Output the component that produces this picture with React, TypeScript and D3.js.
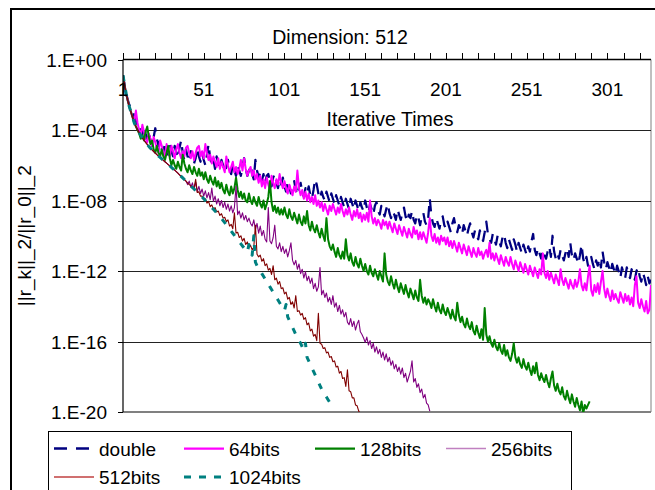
import React from "react";
import * as d3 from "d3";

const W = 655;
const H = 490;

// x categories: iteration index 1..328
const iterationCount = 328;
const xTickLabels = [1, 51, 101, 151, 201, 251, 301];
const yTickExponents = [0, -4, -8, -12, -16, -20];
const yTickLabels = ["1.E+00", "1.E-04", "1.E-08", "1.E-12", "1.E-16", "1.E-20"];

// log10 of the relative residual ||r_k||_2/||r_0||_2
const headLog = [
  -0.9, -1.45, -1.95, -2.35, -2.7, -3.0, -3.3, -3.6, -3.8, -4.0,
  -4.15, -4.3, -4.45, -4.58, -4.7, -4.82, -4.93, -5.03, -5.13, -5.22,
  -5.31, -5.4, -5.48, -5.56, -5.64, -5.72, -5.8, -5.88, -5.96, -6.04,
  -6.12, -6.2, -6.28, -6.36, -6.45, -6.54, -6.63, -6.72, -6.81, -6.9,
];

const doubleLog = [
  -0.9, -1.45, -1.95, -2.3, -2.6, -2.8, -2.85, -3.3, -3.5, -3.8,
  -3.7, -4.0, -4.3, -3.8, -4.2, -4.5, -4.1, -4.6, -4.9, -4.4,
  -3.9, -4.5, -4.9, -4.6, -5.1, -5.3, -4.7, -5.0, -5.4, -4.8,
  -5.2, -5.5, -4.9, -5.3, -5.6, -5.0, -4.6, -5.3, -5.7, -5.1,
  -5.5, -5.8, -5.2, -5.5, -5.9, -5.6, -5.0, -5.5, -5.8, -5.3,
  -5.7, -6.0, -5.4, -4.8, -5.6, -6.0, -5.7, -6.2, -5.5, -5.9,
  -6.2, -5.7, -6.0, -6.4, -6.1, -5.7, -6.2, -6.5, -5.9, -6.3,
  -6.6, -6.0, -6.3, -6.6, -6.1, -5.6, -6.2, -6.6, -6.3, -6.0,
  -6.5, -6.8, -5.7, -6.3, -6.7, -6.4, -6.9, -6.5, -7.0, -6.6,
  -6.5, -6.9, -7.2, -6.7, -6.5, -7.0, -7.3, -6.8, -7.1, -6.7,
  -7.2, -7.5, -6.9, -7.2, -7.6, -7.1, -6.9, -7.4, -7.7, -7.2,
  -7.0, -7.5, -7.8, -7.3, -7.6, -7.2, -7.7, -7.9, -7.4, -6.8,
  -7.1, -7.6, -7.9, -7.5, -7.8, -8.0, -7.5, -7.8, -8.1, -7.6,
  -7.9, -8.2, -7.7, -8.0, -8.3, -7.8, -8.1, -8.4, -7.9, -8.2,
  -8.5, -7.9, -8.2, -8.5, -8.0, -8.3, -8.6, -8.1, -8.4, -8.6,
  -8.0, -8.4, -8.7, -8.2, -8.5, -8.8, -8.3, -8.1, -8.6, -8.8,
  -8.3, -8.6, -8.9, -8.5, -8.2, -8.7, -9.0, -8.6, -8.8, -9.1,
  -8.5, -8.8, -9.1, -8.7, -8.4, -8.9, -9.2, -8.8, -9.0, -8.6,
  -9.1, -9.3, -8.8, -9.0, -9.4, -8.9, -8.7, -9.2, -9.4, -9.0,
  -7.9, -8.9, -9.3, -9.5, -9.0, -9.3, -9.6, -9.1, -8.9, -9.4,
  -9.6, -9.2, -9.5, -9.8, -9.3, -9.0, -9.5, -9.8, -9.4, -9.6,
  -9.9, -9.4, -9.7, -10.0, -9.6, -9.3, -9.8, -10.1, -9.7, -10.0,
  -10.2, -9.7, -10.0, -10.3, -9.8, -9.2, -9.9, -10.2, -10.4, -9.9,
  -10.2, -10.5, -10.0, -10.3, -10.6, -10.1, -9.9, -10.4, -10.7, -10.2,
  -10.5, -10.8, -10.2, -10.5, -10.9, -10.4, -10.7, -11.0, -10.5, -10.8,
  -11.1, -10.6, -10.9, -10.3, -9.9, -10.8, -11.1, -10.7, -11.0, -11.3,
  -10.8, -11.1, -11.3, -10.9, -10.6, -11.2, -10.0, -10.9, -11.3, -11.0,
  -11.3, -10.8, -11.1, -11.4, -11.0, -10.7, -11.2, -10.4, -11.1, -11.4,
  -11.0, -11.3, -11.6, -11.1, -10.5, -11.3, -11.6, -11.2, -11.7, -11.4,
  -11.2, -11.6, -11.9, -11.4, -11.7, -11.3, -11.8, -10.9, -11.5, -11.9,
  -11.5, -11.8, -12.1, -11.6, -11.9, -12.2, -11.7, -12.0, -12.4, -11.8,
  -12.1, -12.4, -11.8, -12.1, -12.4, -11.9, -12.2, -12.5, -12.0, -11.8,
  -12.3, -12.6, -12.1, -12.4, -12.8, -12.3, -12.7, -12.5,
];

const bits64Log = [
  -0.9, -1.45, -1.95, -2.35, -2.7, -3.0, -3.3, -3.5, -2.9, -3.6,
  -4.0, -4.3, -3.7, -4.1, -4.5, -4.7, -4.2, -4.5, -4.9, -4.4,
  -4.7, -5.1, -5.3, -4.6, -4.9, -5.3, -5.5, -4.8, -5.2, -5.5,
  -4.9, -5.2, -5.6, -5.1, -4.8, -5.3, -5.6, -5.2, -5.5, -5.0,
  -4.9, -5.3, -5.6, -5.2, -5.7, -5.3, -5.0, -4.9, -5.5, -5.2,
  -5.6, -4.8, -5.3, -5.7, -5.4, -5.9, -5.5, -5.8, -6.1, -5.6,
  -6.2, -5.8, -6.1, -6.4, -5.5, -6.0, -6.4, -6.1, -5.8, -6.4,
  -6.1, -6.5, -6.2, -5.7, -6.3, -5.6, -6.2, -6.6, -6.3, -6.1,
  -6.6, -6.3, -6.8, -6.5, -7.0, -6.6, -7.2, -6.8, -7.3, -6.7,
  -7.1, -7.4, -6.6, -7.0, -7.3, -6.8, -7.1, -6.5, -7.0, -7.3,
  -6.9, -7.3, -7.6, -7.1, -7.4, -7.7, -7.2, -7.5, -6.3, -7.3,
  -7.7, -7.4, -7.9, -7.5, -8.0, -7.6, -8.1, -7.8, -8.2, -7.7,
  -8.3, -8.0, -8.4, -8.1, -8.6, -8.2, -8.5, -8.8, -8.3, -8.6,
  -8.2, -8.5, -8.8, -8.4, -8.7, -8.2, -8.6, -8.9, -8.5, -8.8,
  -8.4, -8.8, -9.1, -8.6, -8.9, -8.5, -9.0, -8.7, -9.2, -8.8,
  -9.1, -8.7, -9.2, -8.0, -8.9, -9.3, -9.0, -9.4, -9.1, -9.3,
  -9.6, -9.1, -9.4, -9.2, -9.6, -9.2, -9.5, -9.8, -9.3, -9.6,
  -9.9, -9.4, -9.7, -10.0, -9.5, -9.8, -10.1, -9.6, -9.9, -10.1,
  -9.5, -9.9, -9.7, -10.2, -9.8, -10.2, -9.8, -10.1, -10.4, -9.8,
  -9.0, -10.0, -10.3, -9.9, -10.4, -10.1, -10.5, -10.0, -10.3, -10.1,
  -10.5, -10.1, -10.6, -10.3, -10.7, -10.3, -10.6, -10.9, -10.4, -10.7,
  -11.0, -10.5, -10.8, -11.1, -10.6, -10.9, -11.2, -10.7, -11.0, -11.2,
  -10.7, -11.1, -10.9, -11.3, -11.0, -10.8, -11.2, -10.4, -11.3, -11.0,
  -11.4, -11.0, -11.3, -11.6, -11.1, -11.4, -11.7, -11.2, -11.5, -11.7,
  -11.2, -11.6, -11.9, -11.4, -11.7, -12.0, -11.5, -11.8, -12.1, -11.6,
  -11.9, -12.2, -11.7, -12.0, -12.3, -11.8, -12.1, -12.4, -11.9, -12.2,
  -11.0, -12.1, -12.4, -12.0, -12.5, -12.1, -12.4, -12.7, -12.2, -12.5,
  -12.8, -11.9, -12.5, -12.8, -12.4, -12.7, -13.0, -12.5, -12.8, -13.0,
  -12.5, -12.9, -12.6, -11.9, -12.8, -13.1, -12.7, -13.1, -12.3, -11.7,
  -13.1, -13.4, -12.8, -13.2, -12.7, -13.3, -12.6, -12.0, -13.0, -13.5,
  -13.0, -13.4, -13.7, -13.1, -13.6, -13.3, -13.6, -13.8, -13.2, -13.5,
  -13.8, -13.3, -13.7, -13.4, -13.9, -13.5, -14.0, -12.8, -12.3, -13.8,
  -14.1, -13.6, -14.0, -14.3, -13.7, -14.4, -14.2, -12.8,
];

const bits128Log = [
  -0.9, -1.45, -1.95, -2.35, -2.7, -3.0, -3.3, -3.6, -3.8, -4.0,
  -4.2, -4.5, -4.3, -4.6, -4.1, -3.8, -4.4, -4.8, -4.6, -5.1,
  -5.3, -4.9, -5.3, -5.5, -5.1, -5.5, -5.7, -5.3, -4.9, -5.6,
  -6.0, -5.7, -6.0, -6.2, -5.8, -6.1, -6.3, -5.4, -5.9, -6.2,
  -6.4, -6.0, -6.3, -6.5, -6.1, -6.4, -6.6, -6.2, -6.6, -6.4,
  -6.8, -6.4, -6.8, -7.0, -6.6, -6.9, -7.1, -6.7, -7.2, -6.9,
  -7.3, -7.0, -7.4, -7.6, -7.1, -7.5, -7.7, -7.2, -7.6, -7.3,
  -6.7, -7.4, -7.8, -7.5, -7.9, -7.6, -8.0, -8.1, -7.6, -8.0,
  -8.2, -7.8, -8.1, -8.3, -7.8, -8.2, -8.4, -8.0, -8.5, -8.2,
  -7.8, -6.9, -8.1, -8.6, -8.3, -8.7, -8.4, -8.8, -8.5, -8.8,
  -8.4, -8.8, -9.0, -8.5, -8.9, -9.1, -8.7, -9.0, -9.3, -8.8,
  -9.2, -9.4, -8.9, -9.3, -8.6, -9.4, -9.7, -9.2, -9.6, -9.8,
  -9.4, -9.8, -10.1, -9.6, -10.0, -10.3, -9.0, -10.2, -10.6, -10.8,
  -10.5, -10.9, -11.2, -10.7, -11.1, -11.3, -10.9, -11.3, -10.2, -11.1,
  -11.4, -11.0, -11.5, -11.7, -11.2, -11.6, -11.8, -11.3, -11.7, -12.0,
  -11.6, -12.0, -12.2, -11.7, -12.1, -12.3, -11.9, -12.2, -12.5, -12.0,
  -12.3, -12.6, -11.0, -12.2, -12.6, -12.8, -12.3, -12.7, -13.0, -12.5,
  -12.9, -13.2, -12.7, -13.0, -13.3, -12.8, -13.2, -13.5, -13.0, -13.3,
  -13.6, -13.1, -13.5, -13.7, -12.5, -13.4, -13.8, -13.5, -13.9, -13.6,
  -13.8, -14.1, -13.6, -14.0, -14.3, -13.8, -14.2, -14.4, -13.9, -14.3,
  -14.5, -14.1, -14.4, -14.7, -14.2, -14.6, -14.8, -13.8, -14.5, -14.9,
  -14.6, -15.0, -15.2, -14.7, -15.1, -15.3, -14.9, -15.4, -15.6, -15.1,
  -15.5, -15.8, -15.3, -15.9, -14.1, -15.6, -16.0, -15.7, -16.1, -16.3,
  -15.9, -16.3, -16.5, -16.1, -16.5, -16.7, -16.2, -16.8, -16.5, -16.9,
  -17.1, -16.7, -16.1, -16.9, -17.2, -16.9, -17.3, -17.5, -17.0, -17.4,
  -17.6, -17.2, -17.6, -17.9, -17.4, -17.8, -17.2, -17.9, -18.2, -17.8,
  -18.1, -18.3, -17.9, -18.3, -18.6, -18.1, -17.7, -18.5, -18.8, -18.4,
  -18.8, -19.0, -18.6, -19.1, -19.3, -18.8, -19.2, -19.5, -19.0, -19.4,
  -19.7, -19.2, -19.6, -19.9, -19.4, -20.1, -19.6, -19.8, -19.6, -19.4,
];

const bits256Log = [
  ...headLog,
  -7.1, -6.9, -7.25, -7.0, -7.4, -6.95, -7.5, -7.2, -7.6, -7.35,
  -7.75, -7.45, -7.85, -7.55, -7.95, -7.3, -8.05, -7.75, -8.2, -7.9,
  -8.3, -8.0, -8.4, -8.1, -8.5, -8.2, -8.6, -8.3, -8.7, -8.4,
  -7.2, -8.8, -8.6, -9.0, -8.7, -9.1, -8.85, -9.2, -9.0, -9.3,
  -9.45, -9.1, -9.65, -9.3, -9.85, -9.45, -10.0, -9.7, -10.2, -10.35,
  -8.4, -10.3, -10.45, -10.1, -9.4, -10.6, -10.75, -10.4, -10.9, -10.6,
  -11.0, -10.75, -11.2, -10.85, -10.4, -11.4, -11.65, -11.4, -11.9, -11.6,
  -12.15, -11.9, -12.4, -12.05, -12.55, -12.3, -12.7, -12.4, -13.0, -12.7,
  -13.15, -12.9, -11.8, -13.35, -13.1, -13.5, -13.25, -13.75, -13.5, -13.9,
  -13.4, -14.05, -13.8, -14.3, -13.95, -14.45, -14.2, -14.6, -14.35, -14.9,
  -15.05, -14.7, -15.15, -14.85, -15.35, -15.0, -14.8, -15.45, -15.6, -15.8,
  -16.05, -15.75, -16.2, -15.95, -16.4, -16.1, -16.6, -16.3, -16.7, -16.45,
  -16.9, -16.6, -17.05, -16.7, -17.15, -16.9, -17.35, -17.1, -17.55, -17.3,
  -17.7, -17.45, -17.85, -17.5, -18.05, -17.8, -18.3, -18.0, -17.7, -17.1,
  -18.3, -18.1, -18.6, -18.4, -18.9, -18.7, -19.2, -19.0, -19.5, -19.6, -19.95,
];

const bits512Log = [
  ...headLog,
  -7.0, -7.1, -7.15, -7.3, -7.3, -6.8, -7.55, -7.5, -7.75, -7.75,
  -7.95, -7.9, -8.15, -8.05, -8.35, -8.25, -8.5, -8.4, -8.65, -8.6,
  -8.85, -8.75, -9.0, -8.95, -9.2, -9.1, -9.45, -9.35, -9.6, -8.7,
  -9.85, -9.8, -10.1, -10.0, -10.3, -10.15, -10.5, -10.35, -10.65, -10.55,
  -10.8, -10.65, -9.4, -11.05, -11.2, -11.1, -11.45, -11.3, -11.7, -11.6,
  -11.95, -11.85, -12.2, -11.7, -12.5, -12.4, -12.75, -12.6, -13.0, -12.95,
  -13.3, -13.2, -13.6, -13.5, -13.9, -13.75, -14.1, -13.4, -14.3, -14.25,
  -14.5, -14.4, -14.75, -14.65, -15.05, -14.95, -15.4, -15.3, -15.7, -15.6,
  -15.95, -14.4, -16.1, -16.15, -16.4, -16.35, -16.65, -16.6, -16.9, -16.85,
  -17.15, -17.1, -17.45, -17.4, -17.8, -17.7, -18.1, -18.05, -18.55, -17.6,
  -18.8, -18.85, -19.2, -19.2, -19.6, -19.65, -19.95, -20.1,
];

const bits1024Log = [
  ...headLog,
  -6.99, -7.08, -7.17, -7.26, -7.35, -7.44, -7.53, -7.62, -7.71, -7.8,
  -7.9, -8.0, -8.1, -8.2, -8.3, -8.4, -8.5, -8.6, -8.7, -8.8,
  -8.9, -9.02, -9.14, -9.26, -9.38, -9.5, -9.62, -9.74, -9.86, -9.98,
  -10.1, -10.22, -10.34, -10.46, -10.58, -10.7, -10.82, -10.94, -10.5, -11.05,
  -11.1, -10.0, -11.5, -11.7, -11.85, -12.0, -12.15, -12.3, -12.45, -12.6,
  -12.75, -12.9, -13.05, -13.2, -13.35, -13.5, -13.65, -13.8, -13.95, -14.1,
  -14.25, -13.9, -14.6, -14.8, -15.0, -15.2, -15.4, -15.6, -15.8, -15.95,
  -16.1, -16.3, -16.5, -16.1, -16.9, -17.1, -17.3, -17.5, -17.7, -17.9,
  -18.1, -18.3, -18.5, -18.7, -18.85, -19.0, -19.15, -19.3, -19.45, -19.6,
];

const seriesNames = ["double", "64bits", "128bits", "256bits", "512bits", "1024bits"];
const seriesData = [doubleLog, bits64Log, bits128Log, bits256Log, bits512Log, bits1024Log];
const seriesColors = ["#000080", "#FF00FF", "#008000", "#800080", "#800000", "#008080"];
const seriesWidths = [2.25, 2, 2, 1.1, 1.1, 3];
const seriesDash = ["12 8", "", "", "", "", "6 9"];
const legendColors = ["#000080", "#FF00FF", "#008000", "#C080C0", "#C04040", "#008080"];
const legendWidths = [2.5, 2.25, 2.25, 1.5, 1.5, 3];

const FONT = "'Liberation Sans', Arial, sans-serif";

export default function App() {
  const left = 123;
  const right = 651;
  const top = 59.5;
  const bottom = 412;

  const x = d3.scaleLinear().domain([1, iterationCount]).range([left, right]);
  const y = d3.scaleLog().domain([1e-20, 1]).range([bottom, top]);

  const line = d3
    .line<number>()
    .x((_, i) => x(i + 1))
    .y((d) => y(Math.pow(10, d)));

  const minorTicks = d3.range(1, iterationCount + 1, 10);

  const legendCols = [54, 184, 315, 446];
  const legendRows = [448.5, 477];

  return (
    <svg width={W} height={H} style={{ display: "block", position: "absolute", left: 0, top: 0 }}>
      <rect x={0} y={0} width={W} height={H} fill="#fff" />
      <rect x={11} y={9} width={700} height={600} fill="none" stroke="#000" strokeWidth={2} />
      <defs>
        <clipPath id="plotClip">
          <rect x={left} y={top} width={right - left} height={bottom - top} />
        </clipPath>
      </defs>

      <text x={340} y={44} textAnchor="middle" fontFamily={FONT} fontSize={19.5} fill="#000">
        Dimension: 512
      </text>

      <line x1={right} x2={right} y1={top} y2={bottom} stroke="#808080" strokeWidth={1} />
      <line x1={left} x2={right} y1={bottom} y2={bottom} stroke="#808080" strokeWidth={2} />

      {yTickExponents.slice(1, -1).map((e) => (
        <line
          key={e}
          x1={left}
          x2={right}
          y1={Math.round(y(Math.pow(10, e))) + 0.5}
          y2={Math.round(y(Math.pow(10, e))) + 0.5}
          stroke="#222"
          strokeWidth={1}
        />
      ))}

      {yTickExponents.map((e, k) => {
        const yy = y(Math.pow(10, e));
        return (
          <g key={e}>
            <line x1={118} x2={left} y1={Math.round(yy) + 0.5} y2={Math.round(yy) + 0.5} stroke="#000" />
            <text x={107} y={yy + 7} textAnchor="end" fontFamily={FONT} fontSize={19} fill="#000">
              {yTickLabels[k]}
            </text>
          </g>
        );
      })}

      <g clipPath="url(#plotClip)">
        {seriesData.map((s, k) => (
          <path
            key={seriesNames[k]}
            d={line(s) || ""}
            fill="none"
            stroke={seriesColors[k]}
            strokeWidth={seriesWidths[k]}
            strokeDasharray={seriesDash[k] || undefined}
            strokeLinejoin="round"
          />
        ))}
      </g>

      <line x1={left} x2={left} y1={top} y2={bottom} stroke="#000" strokeWidth={1.2} />
      <line x1={left} x2={right} y1={top} y2={top} stroke="#000" strokeWidth={1.3} />
      {minorTicks.map((t) => (
        <line key={t} x1={Math.round(x(t)) + 0.5} x2={Math.round(x(t)) + 0.5} y1={53} y2={top} stroke="#000" />
      ))}
      {xTickLabels.map((t) => (
        <text key={t} x={x(t)} y={96} textAnchor="middle" fontFamily={FONT} fontSize={19} fill="#000">
          {t}
        </text>
      ))}
      <text x={390} y={126} textAnchor="middle" fontFamily={FONT} fontSize={19.5} fill="#000">
        Iterative Times
      </text>

      <text
        transform={`translate(31, ${(top + bottom) / 2}) rotate(-90)`}
        textAnchor="middle"
        fontFamily={FONT}
        fontSize={19}
        fill="#000"
      >
        ||r_k||_2/||r_0||_2
      </text>

      <rect x={48.5} y={431.5} width={523} height={80} fill="#fff" stroke="#000" strokeWidth={1} />
      {seriesNames.map((name, k) => {
        const cx = legendCols[k % 4];
        const cy = legendRows[Math.floor(k / 4)];
        return (
          <g key={name}>
            <line
              x1={cx}
              x2={cx + 40}
              y1={cy}
              y2={cy}
              stroke={legendColors[k]}
              strokeWidth={legendWidths[k]}
              strokeDasharray={k === 0 ? "13 9" : k === 5 ? "7 8" : undefined}
            />
            <text x={cx + 45} y={cy + 7} fontFamily={FONT} fontSize={19} fill="#000">
              {name}
            </text>
          </g>
        );
      })}
    </svg>
  );
}
